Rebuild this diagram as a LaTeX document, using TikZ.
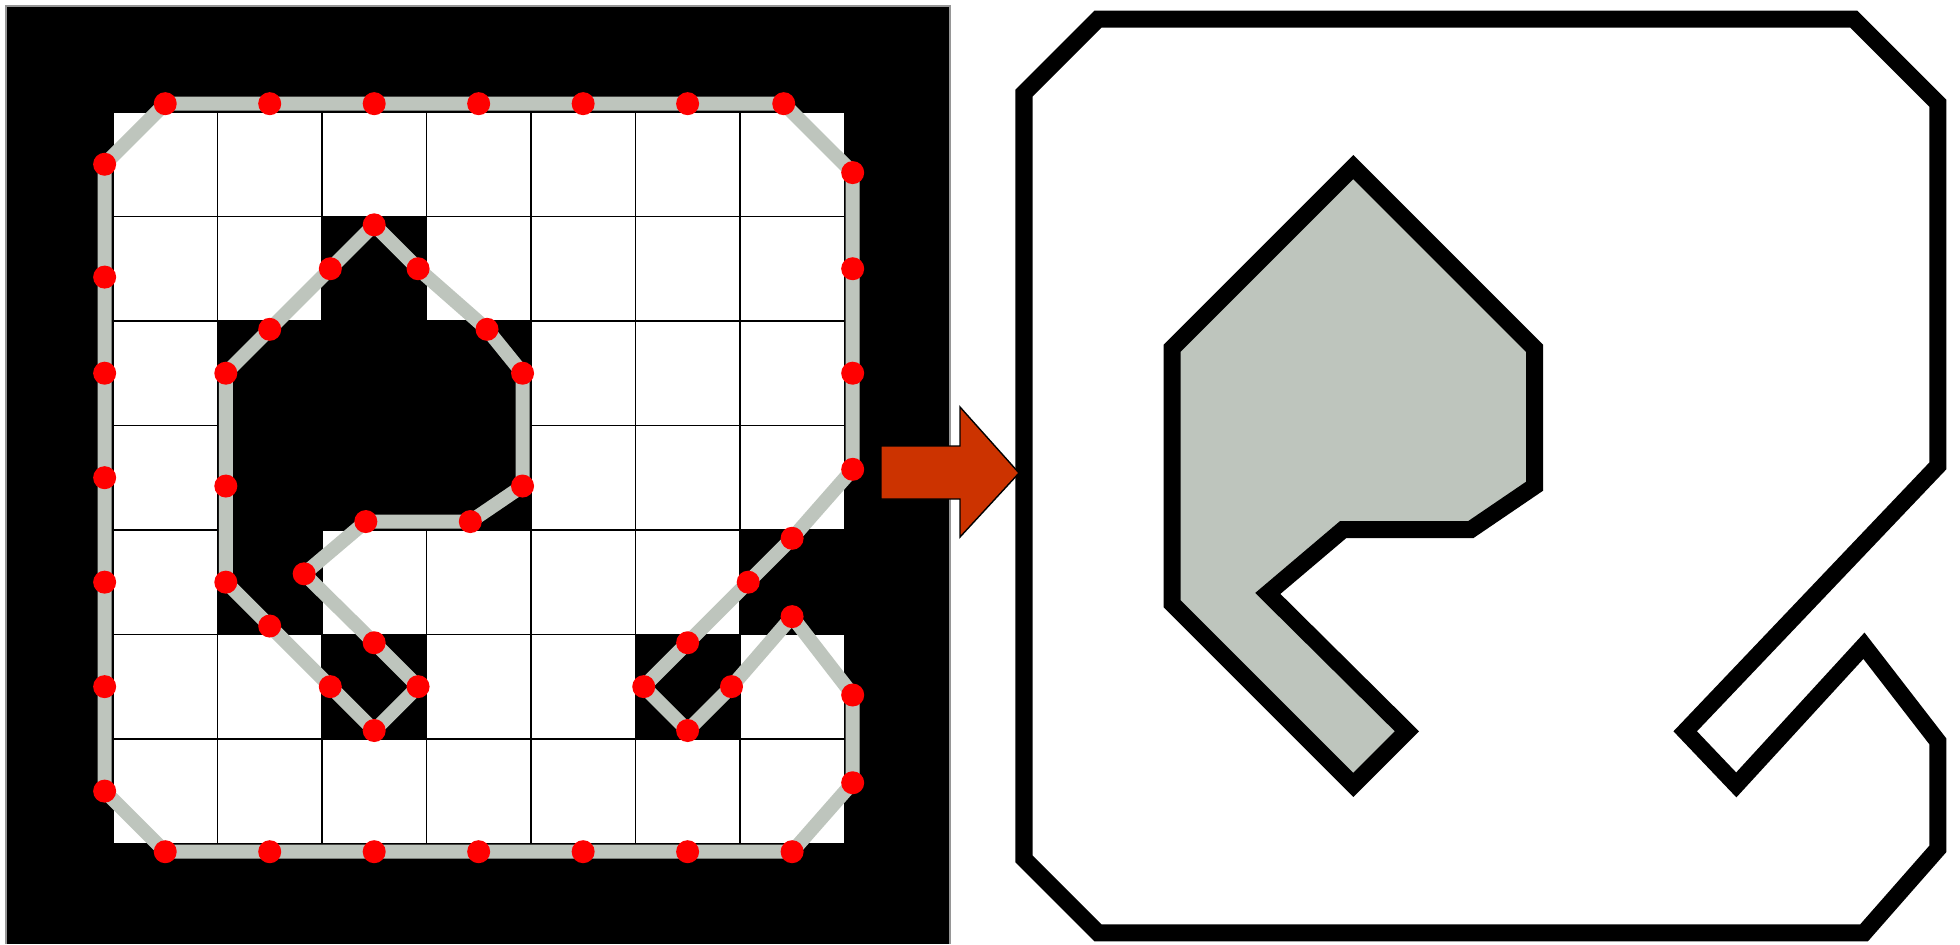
\documentclass[tikz,border=0pt]{standalone}
\definecolor{isogray}{RGB}{190,197,189}
\definecolor{dotred}{RGB}{255,0,0}
\definecolor{arroworange}{RGB}{204,51,0}
\definecolor{framegray}{RGB}{150,150,150}

\begin{document}
\begin{tikzpicture}[
    x=0.01cm, y=-0.01cm,
    line join=miter,
    gridline/.style={black, line width=0.45pt},
    isoline/.style={isogray, line width=0.14cm},
    vertex/.style={circle, fill=dotred, inner sep=0pt, minimum size=0.23cm},
    outline/.style={draw=black, line width=0.17cm},
]

% ── Adjustable parameters ───────────────────────────────────────────────────
\def\cellL{104.5}   % cell size, left panel [px]
\def\cellR{127.7}   % cell size, right panel [px]

% Contour points in cell units (x right, y down)
\def\outerpts{0.5/-0.08, 1.5/-0.08, 2.5/-0.08, 3.5/-0.08, 4.5/-0.08,
    5.5/-0.08, 6.42/-0.08, 7.08/0.58, 7.08/1.5, 7.08/2.5, 7.08/3.42,
    6.5/4.08, 6.08/4.5, 5.5/5.08, 5.08/5.5, 5.5/5.92, 5.92/5.5, 6.5/4.83,
    7.08/5.58, 7.08/6.42, 6.5/7.08, 5.5/7.08, 4.5/7.08, 3.5/7.08, 2.5/7.08,
    1.5/7.08, 0.5/7.08, -0.08/6.5, -0.08/5.5, -0.08/4.5, -0.08/3.5,
    -0.08/2.5, -0.08/1.58, -0.08/0.5}
\def\innerpts{2.5/1.08, 2.92/1.5, 3.58/2.08, 3.92/2.5, 3.92/3.58,
    3.42/3.92, 2.42/3.92, 1.83/4.42, 2.5/5.08, 2.92/5.5, 2.5/5.92,
    2.08/5.5, 1.5/4.92, 1.08/4.5, 1.08/3.58, 1.08/2.5, 1.5/2.08, 2.08/1.5}

% Simplified polygons (corners only)
\def\outercorners{0.5/-0.08, 6.42/-0.08, 7.08/0.58, 7.08/3.42, 5.1/5.5,
    5.5/5.92, 6.5/4.83, 7.08/5.58, 7.08/6.42, 6.5/7.08, 0.5/7.08,
    -0.08/6.5, -0.08/0.5}
\def\innercorners{2.5/1.08, 3.92/2.5, 3.92/3.58, 3.42/3.92, 2.42/3.92,
    1.83/4.42, 2.92/5.5, 2.5/5.92, 1.08/4.5, 1.08/2.5}

\useasboundingbox (0,0) rectangle (1960,944);

% ── Left panel: binary image ────────────────────────────────────────────────
\fill[black] (6,6) rectangle (950,944);
\draw[framegray, line width=0.3pt] (6,944) -- (6,6) -- (950,6) -- (950,944);

\begin{scope}[shift={(113,112)}, scale=\cellL]
    \fill[white] (0,0) rectangle (7,7);
    % dark cells
    \foreach \c/\r in {2/1, 1/2, 2/2, 3/2, 1/3, 2/3, 3/3,
                       1/4, 6/4, 2/5, 5/5}
        \fill[black] (\c,\r) rectangle ++(1,1);
    % cell borders
    \foreach \k in {0,...,7} {
        \draw[gridline] (\k,0) -- (\k,7);
        \draw[gridline] (0,\k) -- (7,\k);
    }
    % contour points
    \foreach \x/\y [count=\k] in \outerpts
        \coordinate (Lo\k) at (\x,\y);
    \foreach \x/\y [count=\k] in \innerpts
        \coordinate (Li\k) at (\x,\y);
    % iso-lines
    \draw[isoline] (Lo1) \foreach \k in {2,...,34} {-- (Lo\k)} -- cycle;
    \draw[isoline] (Li1) \foreach \k in {2,...,18} {-- (Li\k)} -- cycle;
    % vertices
    \foreach \k in {1,...,34}
        \node[vertex] (vo\k) at (Lo\k) {};
    \foreach \k in {1,...,18}
        \node[vertex] (vi\k) at (Li\k) {};
\end{scope}

% ── Right panel: extracted polygons ─────────────────────────────────────────
\begin{scope}[shift={(1034.2,29.2)}, scale=\cellR]
    \foreach \x/\y [count=\k] in \outercorners
        \coordinate (Ro\k) at (\x,\y);
    \foreach \x/\y [count=\k] in \innercorners
        \coordinate (Ri\k) at (\x,\y);
    \filldraw[outline, fill=white]
        (Ro1) \foreach \k in {2,...,13} {-- (Ro\k)} -- cycle;
    \filldraw[outline, fill=isogray]
        (Ri1) \foreach \k in {2,...,10} {-- (Ri\k)} -- cycle;
\end{scope}

% ── Block arrow ─────────────────────────────────────────────────────────────
\filldraw[fill=arroworange, draw=black, line width=0.4pt]
    (881,446) -- (960,446) -- (960,407) -- (1019,473)
    -- (960,537) -- (960,499) -- (881,499) -- cycle;

\end{tikzpicture}
\end{document}
